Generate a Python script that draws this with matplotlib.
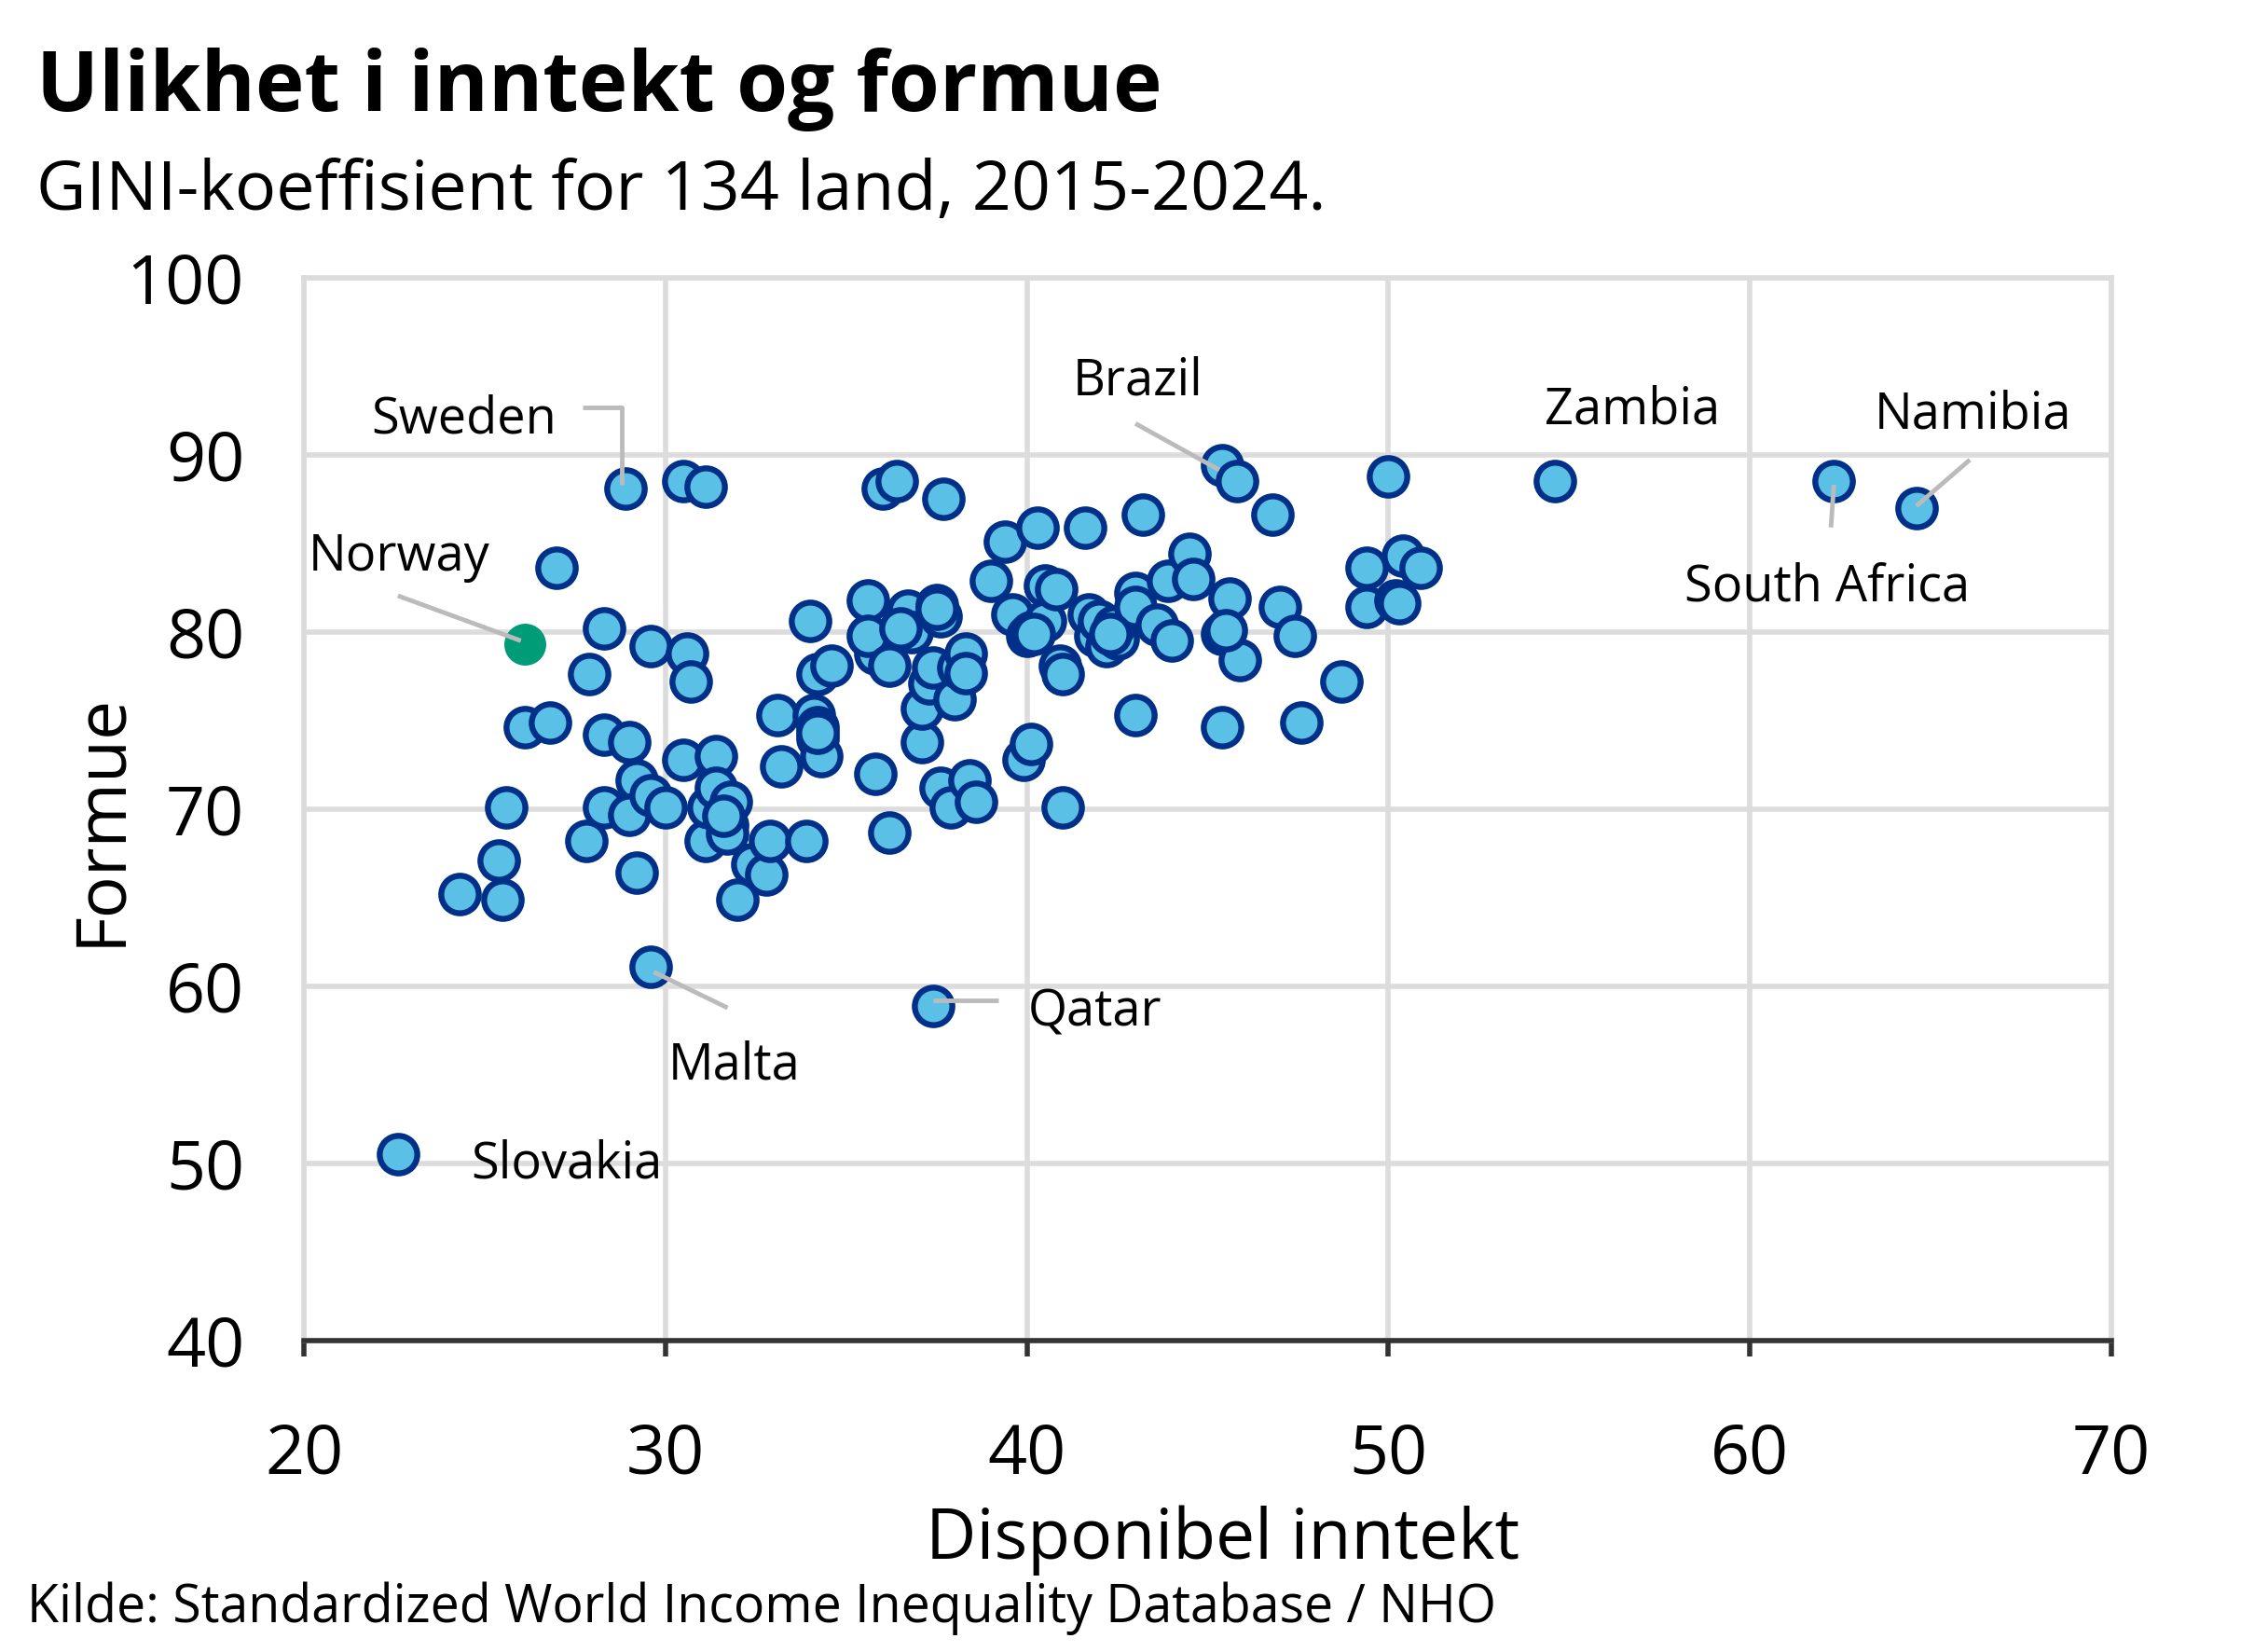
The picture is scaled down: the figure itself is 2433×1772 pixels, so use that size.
import numpy as np
import matplotlib
matplotlib.use('Agg')
import matplotlib.pyplot as plt

plt.rcParams['font.family'] = ['Open Sans', 'DejaVu Sans']

#--data (GINI disposable income vs wealth)--#
income = [22.6, 29.6, 37.4, 28.9, 30.5, 31.1, 27.0, 24.3, 25.4, 25.5,
          25.6, 26.1, 26.8, 27.8, 27.9, 28.3, 28.3, 28.3, 29.0, 29.2,
          29.0, 29.2, 29.6, 29.6, 30.0, 30.6, 30.7, 30.5, 31.1, 31.4,
          31.2, 31.4, 31.7, 31.7, 31.8, 32.0, 32.4, 32.8, 32.9, 33.1,
          33.2, 33.9, 34.0, 34.1, 34.2, 34.2, 34.3, 34.2, 34.6, 35.6,
          35.8, 35.6, 35.8, 36.0, 36.4, 36.2, 36.2, 36.6, 36.7, 36.8,
          37.1, 37.1, 37.3, 37.4, 37.5, 37.6, 37.7, 37.6, 37.9, 38.0,
          38.1, 38.3, 38.3, 38.4, 38.6, 39.0, 39.4, 39.6, 39.9, 40.1,
          40.0, 40.1, 40.3, 40.5, 40.5, 40.8, 40.9, 41.0, 41.0, 41.6,
          41.7, 41.9, 42.0, 42.2, 42.5, 42.4, 43.0, 43.0, 43.0, 43.2,
          43.6, 44.0, 43.9, 44.5, 44.6, 45.4, 45.8, 45.4, 45.6, 45.4,
          45.9, 46.8, 47.0, 47.4, 47.6, 48.7, 49.4, 49.4, 50.0, 50.2,
          50.4, 50.9, 54.6, 62.3, 64.6,
          34.2, 37.5, 40.2, 42.3, 31.6, 36.5, 45.5, 50.3]
wealth = [50.5, 61.1, 58.9, 88.1, 88.5, 88.2, 83.6, 65.2, 67.1, 64.9,
          70.1, 74.6, 74.9, 68.2, 77.6, 80.2, 74.2, 70.1, 73.8, 71.6,
          69.7, 66.4, 79.2, 70.8, 70.1, 78.8, 77.2, 72.8, 68.2, 73.0,
          70.1, 71.2, 69.1, 68.6, 70.4, 64.9, 66.9, 66.3, 68.2, 75.3,
          72.4, 68.2, 80.6, 75.3, 74.6, 74.0, 73.0, 77.6, 78.1, 81.8,
          78.8, 79.8, 72.0, 88.1, 88.5, 68.7, 78.1, 80.6, 81.2, 80.0,
          73.8, 75.7, 77.1, 78.0, 81.5, 80.9, 87.5, 71.2, 70.1, 76.2,
          78.0, 78.8, 77.7, 71.6, 70.4, 82.9, 85.1, 81.0, 72.8, 73.7,
          79.8, 80.0, 85.9, 82.6, 80.6, 82.4, 78.1, 77.6, 70.1, 85.9,
          81.0, 79.8, 80.6, 79.2, 79.6, 80.3, 82.2, 81.4, 75.3, 86.6,
          80.4, 79.5, 82.9, 84.4, 83.0, 89.4, 88.5, 79.9, 81.9, 74.6,
          78.4, 86.6, 81.4, 79.8, 74.9, 77.2, 81.4, 83.6, 88.8, 81.8,
          84.3, 83.6, 88.5, 88.5, 87.0,
          74.3, 81.3, 79.9, 79.9, 69.6, 80.2, 80.1, 81.6]

norway_x = [26.1]
norway_y = [79.3]

#--labels: name, text pos, line points--#
labels = ['Sweden', 'Norway', 'Brazil', 'Zambia', 'Namibia',
          'South Africa', 'Malta', 'Qatar', 'Slovakia']
label_x = [24.42, 22.62, 43.06, 56.74, 66.18, 62.14, 31.9, 41.88, 27.26]
label_y = [92.0, 84.24, 94.12, 92.49, 92.24, 82.53, 55.51, 58.53, 49.96]
lines = [
    ([27.72, 28.8, 28.8], [92.65, 92.65, 88.3]),
    ([22.6, 26.0], [82.04, 79.5]),
    ([43.0, 45.32], [91.76, 89.14]),
    ([66.08, 64.6], [89.71, 87.1]),
    ([62.32, 62.24], [88.3, 85.9]),
    ([29.68, 31.72], [60.8, 58.78]),
    ([37.4, 39.2], [59.2, 59.2]),
]

FILL = '#5bc0e5'
EDGE = '#003087'
GREEN = '#009b77'
GRID = '#dcdcdc'

fig = plt.figure(figsize=(24.33, 17.72), dpi=100)
ax = fig.add_axes([0.134, 0.1885, 0.797, 0.6435])

for lx, ly in lines:
    ax.plot(lx, ly, color='#bbbbbb', lw=3.5, zorder=4, solid_capstyle='butt')

ax.scatter(income, wealth, s=840, c=FILL, edgecolors=EDGE, linewidths=4.6, zorder=3)
ax.scatter(norway_x, norway_y, s=920, c=GREEN, edgecolors=GREEN, linewidths=2, zorder=3)

for name, tx, ty in zip(labels, label_x, label_y):
    ax.text(tx, ty, name, fontsize=39, ha='center', va='center', zorder=5)

ax.set_xlim(20, 70)
ax.set_ylim(40, 100)
ax.set_xticks(np.arange(20, 71, 10))
ax.set_yticks(np.arange(40, 101, 10))
ax.grid(True, color=GRID, lw=4)
ax.set_axisbelow(True)
for s in ['left', 'top', 'right']:
    ax.spines[s].set_color(GRID)
    ax.spines[s].set_linewidth(4)
ax.spines['bottom'].set_color('#333333')
ax.spines['bottom'].set_linewidth(4)
ax.tick_params(axis='x', length=12, width=4, color='#333333', pad=50, labelsize=53, direction='out')
ax.tick_params(axis='y', length=0, pad=46, labelsize=53)

ax.set_xlabel('Disponibel inntekt', fontsize=54, labelpad=12)
ax.xaxis.label.set_x(0.508)
ax.set_ylabel('Formue', fontsize=54)
ax.yaxis.set_label_coords(-0.093, 0.49)

fig.text(0.016, 0.933, 'Ulikhet i inntekt og formue', fontsize=64, fontweight='bold', va='baseline')
fig.text(0.016, 0.873, 'GINI-koeffisient for 134 land, 2015-2024.', fontsize=53, va='baseline')
fig.text(0.012, 0.018, 'Kilde: Standardized World Income Inequality Database / NHO', fontsize=40, va='baseline')

fig.savefig('out.png', dpi=100)
